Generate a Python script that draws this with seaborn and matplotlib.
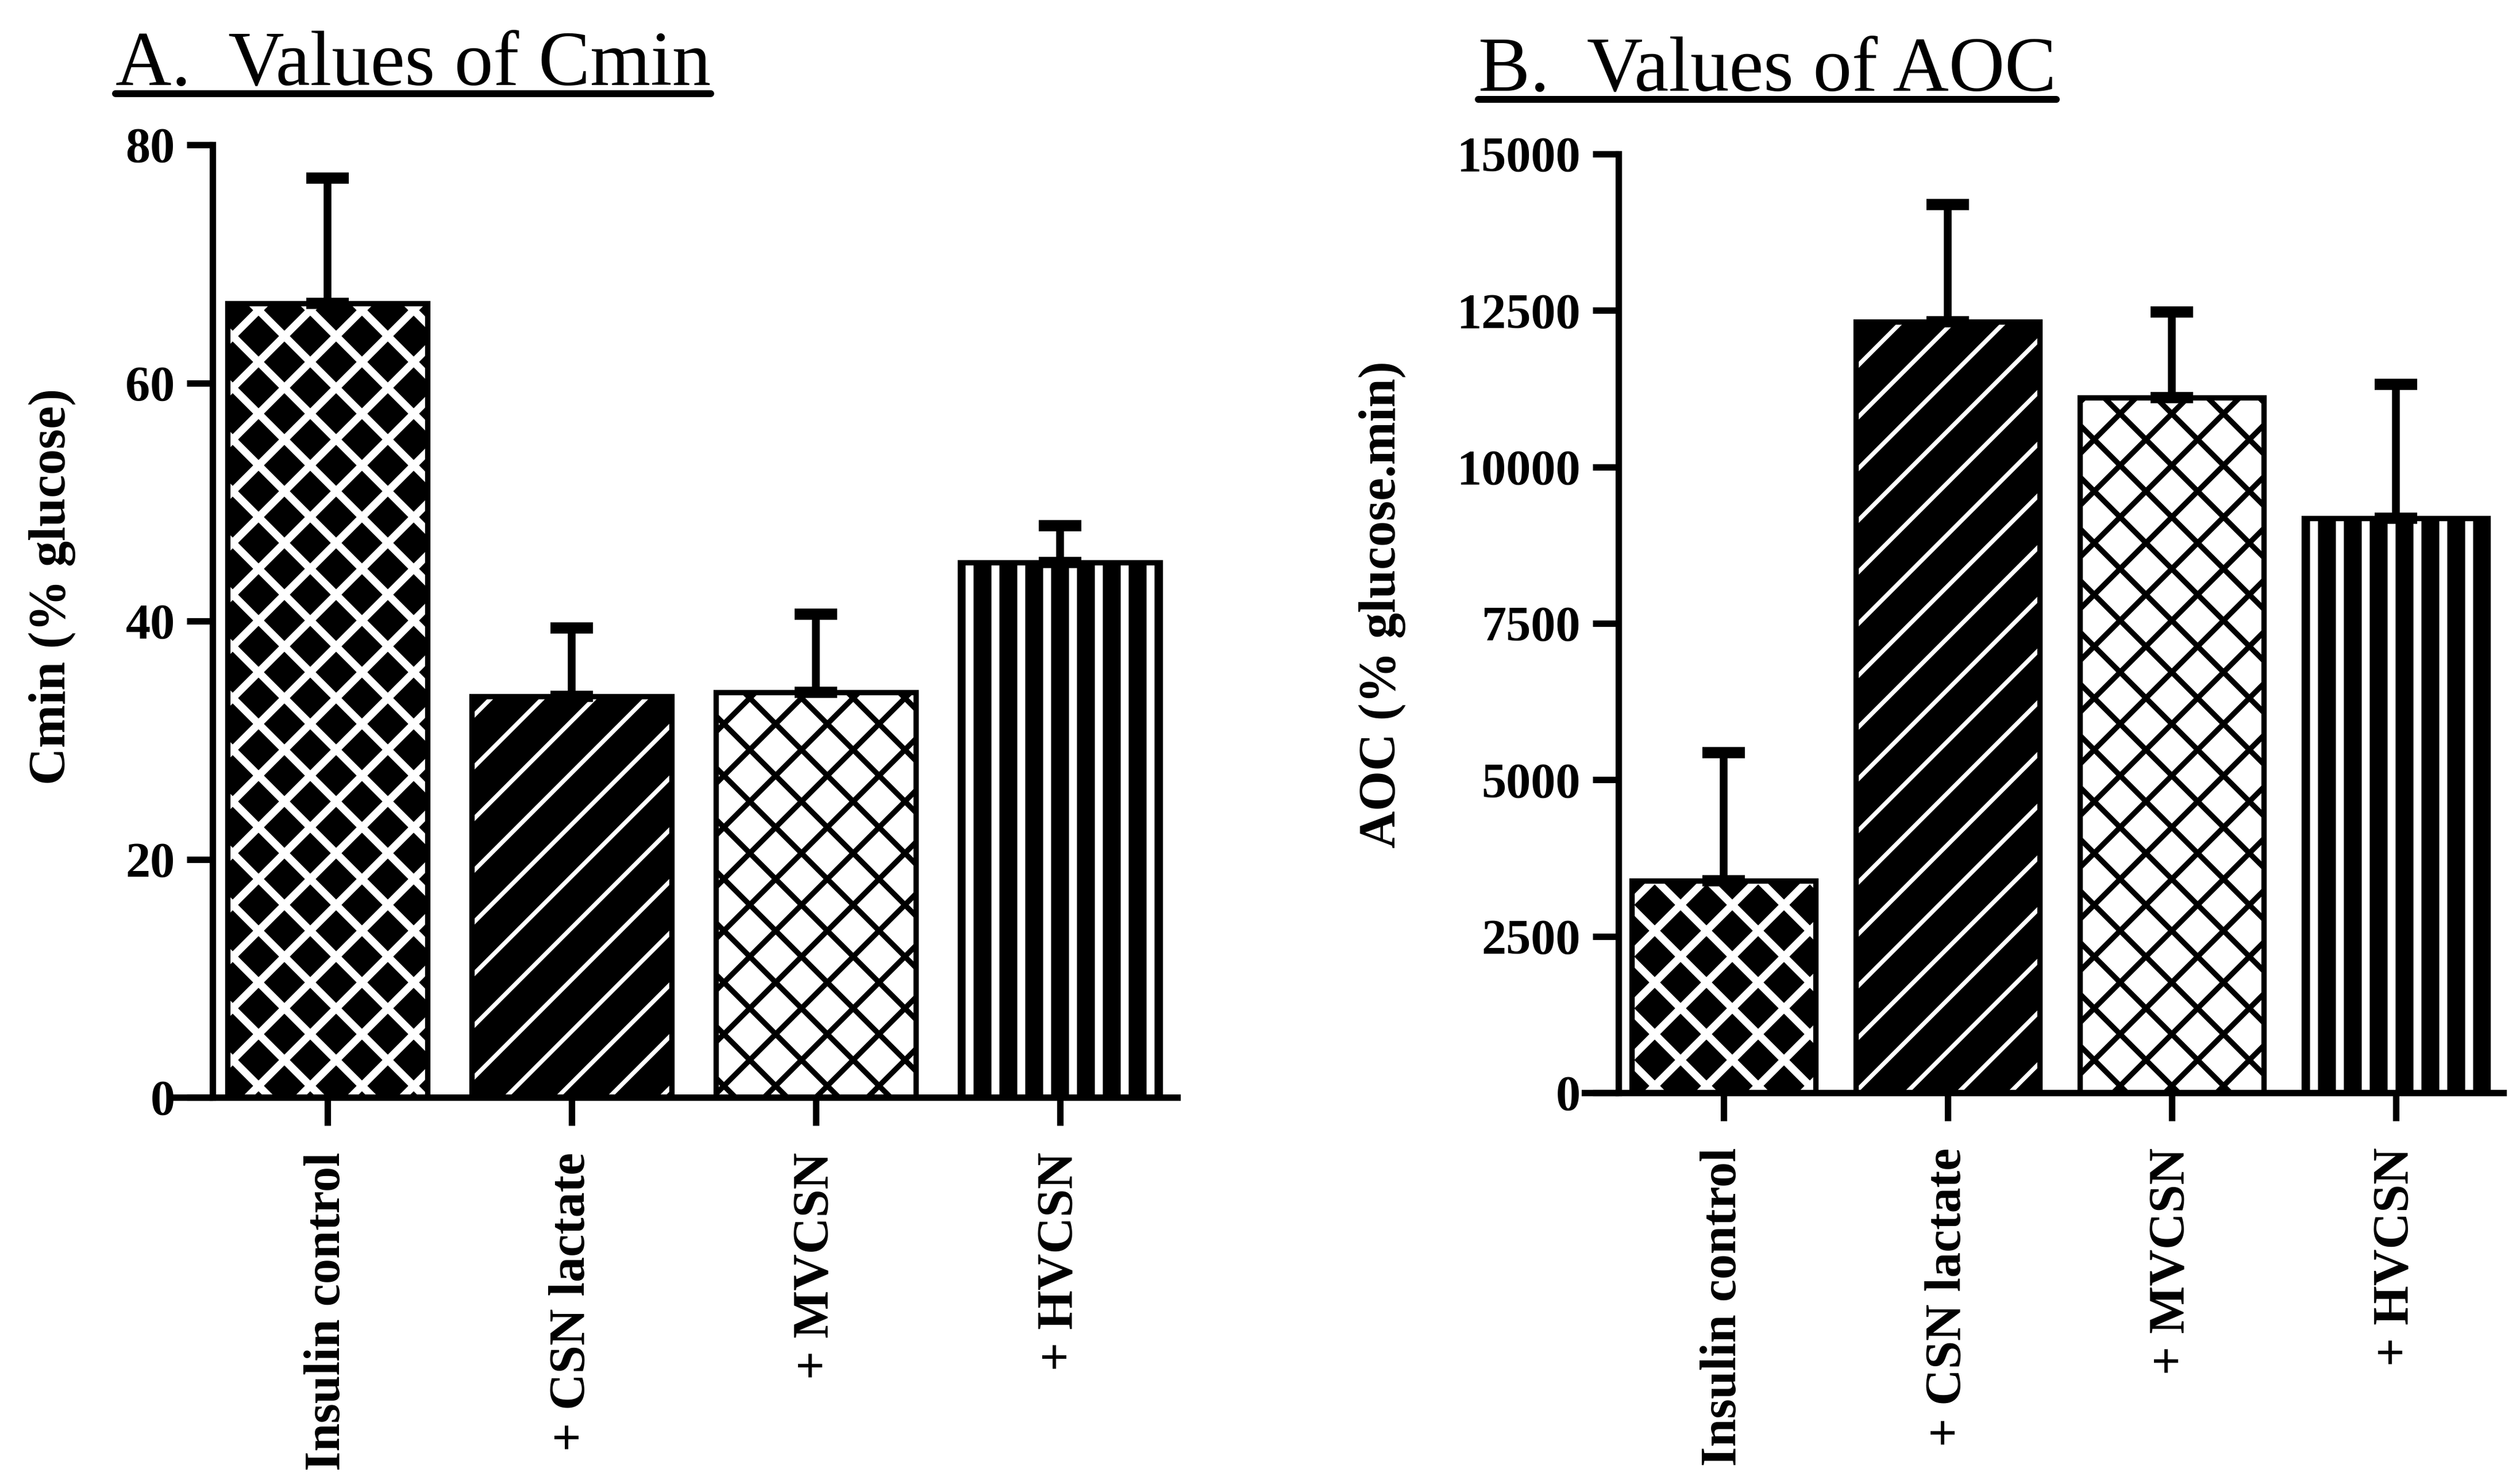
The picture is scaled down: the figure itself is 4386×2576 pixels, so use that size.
import numpy as np
import matplotlib
matplotlib.use("Agg")
import matplotlib.pyplot as plt
import seaborn as sns
from matplotlib.lines import Line2D

# ---------------- data ----------------
categories = ["Insulin control", "+ CSN lactate", "+ MVCSN", "+ HVCSN"]
cmin_mean = [66.7, 33.7, 34.0, 44.9]
cmin_sem = [10.5, 5.7, 6.6, 3.1]
aoc_mean = [3390, 12320, 11110, 9180]
aoc_sem = [2045, 1873, 1366, 2139]
cmin_ticks = [0, 20, 40, 60, 80]
aoc_ticks = [0, 2500, 5000, 7500, 10000, 12500, 15000]
titles = ["A.  Values of Cmin", "B.  Values of AOC"]
ylabels = ["Cmin (% glucose)", "AOC (% glucose.min)"]

# ---------------- styles ----------------
face_colors = ["black", "black", "white", "black"]
hatch_colors = ["white", "white", "black", "white"]
hatches = ["x", "/", "x", "|"]
hatch_widths = [3.5, 2.0, 2.5, 3.7]

sns.set_style("ticks")
plt.rcParams["font.family"] = ["Liberation Serif", "DejaVu Serif"]
plt.rcParams["hatch.linewidth"] = 3.0

W, H, DPI = 4386, 2576, 270
fig = plt.figure(figsize=(W / DPI, H / DPI), dpi=DPI)
fig.patch.set_facecolor("white")

axA = fig.add_axes([306.5 / W, (H - 1910) / H, 1742.5 / W, (1910 - 252) / H])
axB = fig.add_axes([2758 / W, (H - 1902) / H, 1599 / W, (1902 - 268) / H])

panels = [
    (axA, cmin_mean, cmin_sem, cmin_ticks, 80, ylabels[0], (-0.10, 0.536)),
    (axB, aoc_mean, aoc_sem, aoc_ticks, 15000, ylabels[1], (-0.1945, 0.52)),
]

for ax, means, sems, ticks, ytop, ylab, lab_xy in panels:
    sns.barplot(x=categories, y=means, order=categories, ax=ax, width=0.82,
                color="black", saturation=1, errorbar=None, linewidth=0)
    bars = list(ax.patches)
    for i, p in enumerate(bars):
        p.set_facecolor(face_colors[i])
        p.set_edgecolor(hatch_colors[i])
        p.set_linewidth(0)
        p.set_hatch(hatches[i])
        if hasattr(p, "set_hatch_linewidth"):
            p.set_hatch_linewidth(hatch_widths[i])
    n0 = len(ax.patches)
    sns.barplot(x=categories, y=means, order=categories, ax=ax, width=0.82,
                color="black", saturation=1, errorbar=None, fill=False,
                linewidth=2.5)
    for p in ax.patches[n0:]:
        p.set_facecolor("none")
        p.set_edgecolor("black")
        p.set_linewidth(2.5)
        p.set_hatch(None)

    xs = [p.get_x() + p.get_width() / 2 for p in bars]
    ax.errorbar(xs, means, yerr=[np.zeros(len(sems)), sems], fmt="none",
                ecolor="black", elinewidth=3.6, capsize=9.8, capthick=5.2,
                zorder=1.5)

    ax.set_xlim(-0.62, 3.48)
    ax.set_ylim(0, ytop)
    ax.set_yticks(ticks)
    ax.set_yticklabels([str(t) for t in ticks])
    sns.despine(ax=ax)
    ax.spines["left"].set_position(("data", -0.47))
    for s in ("left", "bottom"):
        ax.spines[s].set_linewidth(3)
        ax.spines[s].set_color("black")
    ax.tick_params(axis="y", length=12, width=3, pad=5.5, labelsize=23,
                   colors="black", direction="out")
    ax.tick_params(axis="x", length=13, width=3, pad=12.5, labelsize=23.5,
                   colors="black", direction="out", labelrotation=90)
    for lab in ax.get_yticklabels() + ax.get_xticklabels():
        lab.set_fontweight("bold")
    ax.set_xlabel("")
    ax.set_ylabel(ylab, fontsize=24, fontweight="bold", color="black")
    ax.yaxis.set_label_coords(*lab_xy)
    ax.set_facecolor("white")
    ax.grid(False)

# ---------------- titles with underline ----------------
title_pos = [(201 / W, 1 - 148 / H), (2573 / W, 1 - 158 / H)]
tobjs = []
for (tx, ty), t in zip(title_pos, titles):
    tobjs.append(fig.text(tx, ty, t, fontsize=36, ha="left", va="baseline",
                          color="black"))

fig.canvas.draw()
inv = fig.transFigure.inverted()
for t in tobjs:
    bb = t.get_window_extent()
    x0, _ = inv.transform((bb.x0, bb.y0))
    x1, _ = inv.transform((bb.x1, bb.y0))
    _, yb = t.get_position()
    yline = yb - 15 / H
    fig.add_artist(Line2D([x0, x1], [yline, yline], color="black",
                          linewidth=3.2, transform=fig.transFigure))

fig.savefig("out.png", dpi=DPI, facecolor="white")
